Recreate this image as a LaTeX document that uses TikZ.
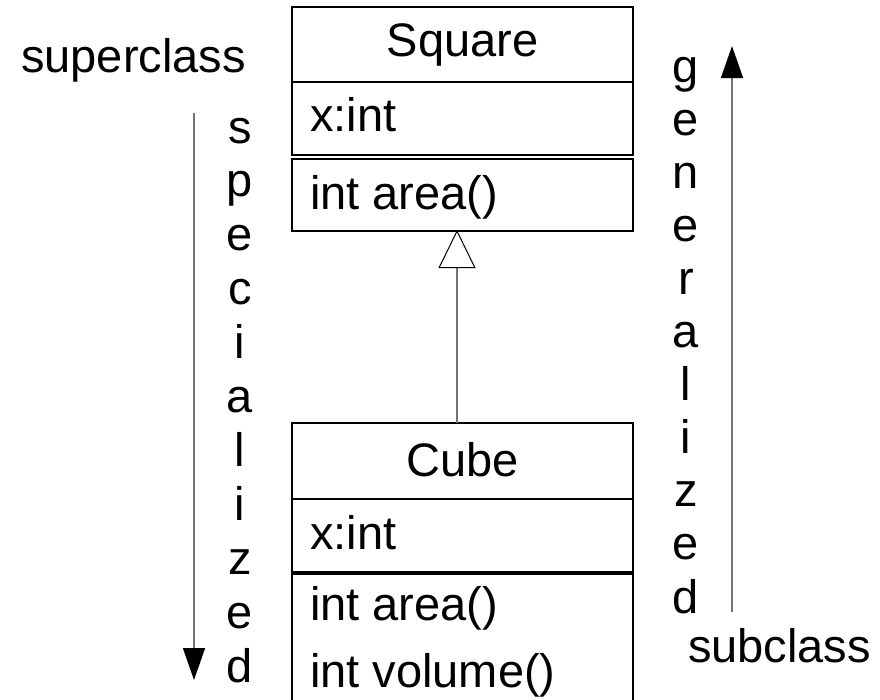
\documentclass[tikz,border=0pt]{standalone}
\usepackage{fontspec}
\setmainfont{Liberation Sans}
\usetikzlibrary{arrows.meta}
\begin{document}
\begin{tikzpicture}[x=1pt,y=-1pt,
  box/.style={draw=black, line width=1.4pt, minimum width=341pt, inner sep=0pt, outer sep=0pt, anchor=north west, rectangle},
  lbl/.style={inner sep=0pt, outer sep=0pt, font=\fontsize{47}{54}\selectfont},
  grayline/.style={draw=black!55, line width=1.5pt},
  dirarrow/.style={grayline, -{Triangle[width=22pt,length=32pt,color=black]}},
  genarrow/.style={grayline, -{Triangle[open,width=37pt,length=38pt,line width=1pt,color=black,fill=white]}}
]
\clip (0,0) rectangle (880,699);
\fill[white] (0,0) rectangle (880,699);

% Square class
\node[box, minimum height=75pt] (sqname) at (292,7) {};
\node[box, minimum height=73pt] (sqattr) at (292,82) {};
\node[box, minimum height=72pt] (sqmeth) at (292,159) {};
\node[lbl, anchor=base] (sqtitle) at (462.5,56) {Square};
\node[lbl, anchor=base west] (sqx) at (310,131) {x:int};
\node[lbl, anchor=base west] (sqarea) at (310,209) {int area()};

% Cube class
\node[box, minimum height=76pt] (cbname) at (292,423) {};
\node[box, minimum height=73pt] (cbattr) at (292,499) {};
\node[box, minimum height=140pt] (cbmeth) at (292,574) {};
\node[lbl, anchor=base] (cbtitle) at (462.5,476) {Cube};
\node[lbl, anchor=base west] (cbx) at (310,549) {x:int};
\node[lbl, anchor=base west] (cbarea) at (310,620) {int area()};
\node[lbl, anchor=base west] (cbvol) at (310,687) {int volume()};

% generalization
\coordinate (gx) at (457,0);
\draw[genarrow] (cbname.north -| gx) -- ([yshift=1pt]sqmeth.south -| gx);

% left side
\node[lbl, anchor=base] (super) at (133.5,72) {superclass};
\coordinate (spstart) at (194,113);
\coordinate (spend) at (194,680);
\draw[dirarrow] (spstart) -- (spend);
\foreach \ch [count=\i] in {s,p,e,c,i,a,l,i,z,e,d}
  \node[lbl, anchor=base] (sp\i) at (240,{143+(\i-1)*53.9}) {\ch};

% right side
\node[lbl, anchor=base] (sub) at (779.5,662) {subclass};
\coordinate (gestart) at (732,612);
\coordinate (geend) at (732,46);
\draw[dirarrow] (gestart) -- (geend);
\foreach \ch [count=\i] in {g,e,n,e,r,a,l,i,z,e,d}
  \node[lbl, anchor=base] (ge\i) at (686,{82+(\i-1)*53.1}) {\ch};
\end{tikzpicture}
\end{document}
